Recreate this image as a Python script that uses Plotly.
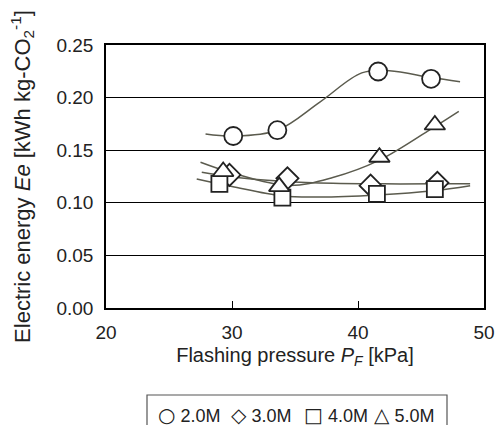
import plotly.graph_objects as go

# Measured points
p_2M = [30.1, 33.6, 41.6, 45.8]
e_2M = [0.1635, 0.169, 0.2248, 0.2178]
p_3M = [29.8, 34.4, 41.0, 46.3]
e_3M = [0.1265, 0.1233, 0.1163, 0.119]
p_4M = [29.0, 34.0, 41.5, 46.1]
e_4M = [0.118, 0.105, 0.1084, 0.113]
p_5M = [29.3, 33.75, 41.7, 46.1]
e_5M = [0.1297, 0.1154, 0.1433, 0.174]

# Fitted curves
cp_2M = [27.9, 30.1, 33.6, 37.0, 40.3, 42.5, 45.8, 48.1]
ce_2M = [0.1655, 0.1635, 0.169, 0.196, 0.2235, 0.2255, 0.219, 0.215]
cp_3M = [27.6, 30.0, 34.0, 38.0, 42.0, 46.0, 48.9]
ce_3M = [0.129, 0.1245, 0.1205, 0.1185, 0.118, 0.118, 0.118]
cp_4M = [27.2, 30.0, 34.0, 37.0, 41.5, 46.0, 48.9]
ce_4M = [0.1227, 0.1155, 0.1065, 0.1055, 0.1075, 0.1115, 0.1163]
cp_5M = [27.5, 30.0, 34.5, 38.0, 41.7, 46.1, 48.0]
ce_5M = [0.1386, 0.1285, 0.1165, 0.124, 0.1405, 0.1725, 0.187]

x_ticks = [20, 30, 40, 50]
y_ticks = [0.00, 0.05, 0.10, 0.15, 0.20, 0.25]

legend_names = ["2.0M", "3.0M", "4.0M", "5.0M"]
legend_glyphs = ["○", "◇", "□", "△"]

series = [
    (p_2M, e_2M, cp_2M, ce_2M, "circle", 18),
    (p_3M, e_3M, cp_3M, ce_3M, "diamond", 17),
    (p_4M, e_4M, cp_4M, ce_4M, "square", 16),
    (p_5M, e_5M, cp_5M, ce_5M, "triangle-up", 18),
]

FONT = "Liberation Sans, Arial, sans-serif"
line_col = "#5b5b4e"

# plot area in window pixels
PL, PR, PT, PB = 106, 484, 45, 308
PW, PH = PR - PL, PB - PT
FIG_W, FIG_H = 496, 425
def paper_x(sx):
    return (sx - PL) / PW
def paper_y(sy):
    return (PB - sy) / PH

fig = go.Figure()
for px, py, cx, cy, sym, sz in series:
    fig.add_trace(go.Scatter(x=cx, y=cy, mode="lines",
                             line=dict(color=line_col, width=1.5, shape="spline", smoothing=1.0),
                             showlegend=False, hoverinfo="skip"))
for (px, py, cx, cy, sym, sz), name in zip(series, legend_names):
    fig.add_trace(go.Scatter(x=px, y=py, mode="markers", name=name, showlegend=False,
                             marker=dict(symbol=sym, size=sz, color="white",
                                         line=dict(color="#222222", width=1.8))))

# legend box and items
fig.add_shape(type="rect", xref="paper", yref="paper",
              x0=paper_x(147), x1=paper_x(447), y0=paper_y(395), y1=paper_y(440),
              line=dict(color="#555555", width=1.2), fillcolor="white", layer="above")
item_x = [156, 229, 302, 372]
for sx, g, name in zip(item_x, legend_glyphs, legend_names):
    fig.add_annotation(text=f'<span style="font-family:DejaVu Sans;font-size:20px">{g}</span> {name}',
                       xref="paper", yref="paper", x=paper_x(sx), y=paper_y(415),
                       xanchor="left", yanchor="middle", showarrow=False,
                       font=dict(family=FONT, size=18, color="#222222"))

fig.update_layout(
    width=FIG_W, height=FIG_H,
    margin=dict(l=PL, r=FIG_W - PR, t=PT, b=FIG_H - PB),
    paper_bgcolor="white", plot_bgcolor="white",
    font=dict(family=FONT, size=19, color="#222222"),
    showlegend=False,
    xaxis=dict(range=[20, 50], tickvals=x_ticks, ticks="inside", ticklen=7, tickcolor="black",
               showgrid=False, zeroline=False, showline=True, linecolor="black", linewidth=1.5, mirror=True,
               tickfont=dict(size=19), ticklabelstandoff=6, automargin=False,
               title=dict(text="Flashing pressure <i>P<sub>F</sub></i> [kPa]", standoff=6, font=dict(size=20))),
    yaxis=dict(range=[0, 0.25], tickvals=y_ticks, tickformat=".2f", ticks="inside", ticklen=7, tickcolor="black",
               showgrid=True, gridcolor="black", gridwidth=1, zeroline=False,
               showline=True, linecolor="black", linewidth=1.5, mirror=True,
               tickfont=dict(size=19), ticklabelstandoff=7, automargin=False,
               title=dict(text="Electric energy <i>Ee</i> [kWh kg-CO<sub>2</sub><sup>-1</sup>]", standoff=20,
                          font=dict(size=22))),
)

fig.write_html("out.html", config={"displayModeBar": False},
               post_script="document.body.style.margin='0';document.body.style.overflow='hidden';")
